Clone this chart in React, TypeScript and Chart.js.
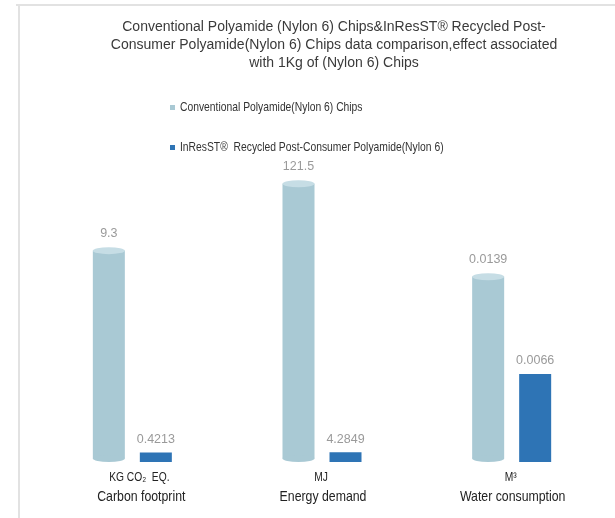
import React, { useEffect, useRef } from 'react';
import { Chart, registerables } from 'chart.js';

Chart.register(...registerables);

const titleLines = [
  'Conventional Polyamide (Nylon 6) Chips&InResST® Recycled Post-',
  'Consumer Polyamide(Nylon 6) Chips data comparison,effect associated',
  'with 1Kg of (Nylon 6) Chips',
];
const categories = ['Carbon footprint', 'Energy demand', 'Water consumption'];
const units = ['KG CO₂  EQ.', 'MJ', 'M³'];
const seriesNames = [
  'Conventional Polyamide(Nylon 6) Chips',
  'InResST®  Recycled Post-Consumer Polyamide(Nylon 6)',
];
const conventional = [9.3, 121.5, 0.0139];
const recycled = [0.4213, 4.2849, 0.0066];
// each category is drawn against its own value ceiling
const categoryScaleMax = [13.2, 131, 0.0225];

const LIGHT = '#a9c9d4';
const LIGHT_TOP = '#c6dde5';
const DARK = '#2e74b5';
const SANS = '"Liberation Sans", Arial, sans-serif';

function ellipse(ctx: CanvasRenderingContext2D, x: number, y: number, rx: number, ry: number) {
  ctx.beginPath();
  ctx.ellipse(x, y, rx, ry, 0, 0, Math.PI * 2);
  ctx.fill();
}

// draws text in a condensed (narrow) rendering of Liberation Sans
function narrowText(
  ctx: CanvasRenderingContext2D,
  text: string,
  x: number,
  y: number,
  size: number,
  align: CanvasTextAlign,
) {
  const k = 0.82;
  ctx.save();
  ctx.font = size + 'px ' + SANS;
  ctx.textAlign = align;
  ctx.textBaseline = 'middle';
  ctx.translate(x, y);
  ctx.scale(k, 1);
  ctx.fillText(text, 0, 0);
  ctx.restore();
}

const decor = {
  id: 'decor',
  beforeDraw(chart: any) {
    const ctx: CanvasRenderingContext2D = chart.ctx;
    ctx.save();
    ctx.fillStyle = '#ffffff';
    ctx.fillRect(0, 0, chart.width, chart.height);
    ctx.strokeStyle = '#e2e2e2';
    ctx.lineWidth = 2;
    ctx.beginPath();
    ctx.moveTo(16, 5);
    ctx.lineTo(chart.width, 5);
    ctx.moveTo(19, 5);
    ctx.lineTo(19, chart.height);
    ctx.stroke();

    ctx.fillStyle = '#3a3a3a';
    ctx.font = '14px ' + SANS;
    ctx.textAlign = 'center';
    ctx.textBaseline = 'middle';
    titleLines.forEach((l, i) => ctx.fillText(l, 334, 27 + i * 18));

    const ds = chart.data.datasets;
    ds.forEach((d: any, i: number) => {
      const cy = 107.5 + i * 40;
      ctx.fillStyle = d.legendColor;
      ctx.fillRect(170, cy - 2.5, 5, 5);
      ctx.fillStyle = '#333333';
      narrowText(ctx, d.label, 180, cy, 12.6, 'left');
    });
    ctx.restore();
  },
  afterDatasetsDraw(chart: any) {
    const ctx: CanvasRenderingContext2D = chart.ctx;
    ctx.save();
    const meta0 = chart.getDatasetMeta(0);
    meta0.data.forEach((bar: any) => {
      const { x, y, base, width } = bar.getProps(['x', 'y', 'base', 'width'], true);
      const rx = width / 2;
      const ry = 3.5;
      ctx.fillStyle = LIGHT;
      ctx.fillRect(x - rx, y, width, base - ry - y);
      ellipse(ctx, x, base - ry, rx, ry);
      ctx.fillStyle = LIGHT_TOP;
      ellipse(ctx, x, y, rx, ry);
    });

    // value labels
    ctx.font = '12.5px ' + SANS;
    ctx.fillStyle = '#9a9a9a';
    ctx.textAlign = 'center';
    ctx.textBaseline = 'middle';
    const raw = [conventional, recycled];
    [0, 1].forEach((di) => {
      const meta = chart.getDatasetMeta(di);
      meta.data.forEach((bar: any, i: number) => {
        const { x, y } = bar.getProps(['x', 'y'], true);
        const off = di === 0 ? 17 : 13;
        ctx.fillText(String(raw[di][i]), x, y - off);
      });
    });

    // category labels
    const xs = chart.scales.x;
    ctx.fillStyle = '#222222';
    categories.forEach((c, i) => {
      const cx = xs.getPixelForValue(i) + (i === 0 ? 9 : 1);
      narrowText(ctx, units[i], cx - 2, 478, 12.5, 'center');
      narrowText(ctx, c, cx, 497, 15, 'center');
    });
    ctx.restore();
  },
};

export default function App() {
  const ref = useRef<HTMLCanvasElement>(null);
  useEffect(() => {
    document.body.style.margin = '0';
    if (!ref.current) return;
    const chart = new Chart(ref.current, {
      type: 'bar',
      data: {
        labels: categories,
        datasets: [
          {
            label: seriesNames[0],
            data: conventional.map((v, i) => v / categoryScaleMax[i]),
            backgroundColor: 'rgba(0,0,0,0)',
            legendColor: LIGHT,
          } as any,
          {
            label: seriesNames[1],
            data: recycled.map((v, i) => v / categoryScaleMax[i]),
            backgroundColor: DARK,
            legendColor: DARK,
          } as any,
        ],
      },
      options: {
        responsive: false,
        animation: false,
        layout: { padding: { left: 37.5, right: 8.5, top: 162, bottom: 56 } },
        datasets: {
          bar: { categoryPercentage: 0.4956, barPercentage: 0.681 },
        },
        scales: {
          x: { display: false },
          y: { display: false, min: 0, max: 1 },
        },
        plugins: {
          legend: { display: false },
          title: { display: false },
          tooltip: { enabled: false },
        },
      },
      plugins: [decor],
    });
    return () => chart.destroy();
  }, []);
  return (
    <div style={{ width: 615, height: 518 }}>
      <canvas ref={ref} width={615} height={518} style={{ display: 'block' }} />
    </div>
  );
}
